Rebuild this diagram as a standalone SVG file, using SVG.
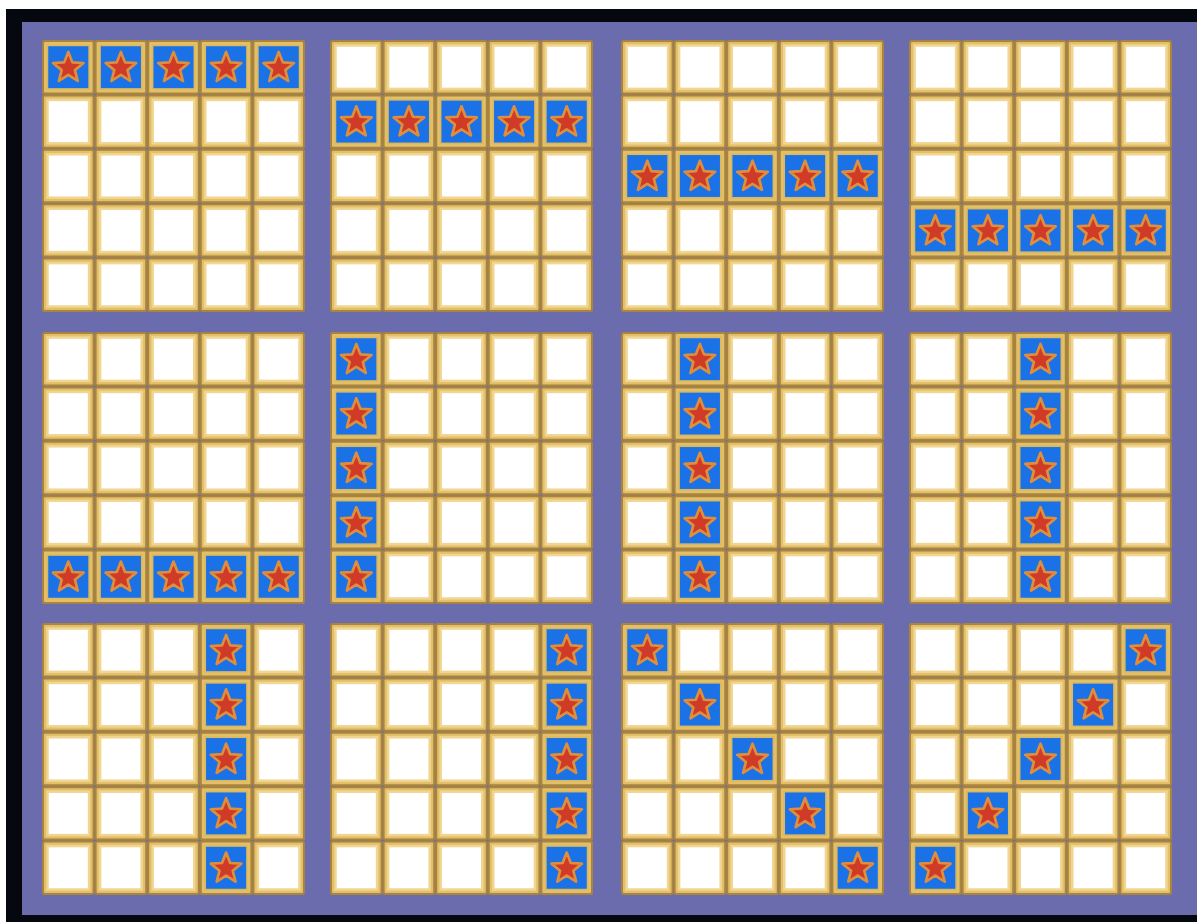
<svg xmlns="http://www.w3.org/2000/svg" width="1197" height="922" viewBox="0 0 1197 922">
<style>
.frame{fill:#a8843f}
.gold{fill:#e2bf68}
.in{fill:#ffffff;stroke:#f0d690;stroke-width:2.5}
.bin{fill:#1a72e6;stroke:#d9b860;stroke-width:1.5}
.star{fill:#cf3b26;stroke:#de8e3c;stroke-width:2.5;stroke-linejoin:round}
</style>
<defs>
<g id="c">
<rect class="frame" width="52.6" height="54.4" rx="2.5"/>
<rect class="gold" x="2" y="2" width="48.6" height="50.4" rx="1"/>
<rect class="in" x="5.5" y="5.5" width="41.6" height="43.4"/>
</g>
<g id="s">
<rect class="frame" width="52.6" height="54.4" rx="2.5"/>
<rect class="gold" x="2" y="2" width="48.6" height="50.4" rx="1"/>
<rect class="bin" x="5.5" y="5.5" width="41.6" height="43.4"/>
<path class="star" transform="translate(26.3,28) scale(1.07)" d="M0,-15 L3.82,-5.26 L14.27,-4.64 L6.18,2.01 L8.82,12.14 L0,6.5 L-8.82,12.14 L-6.18,2.01 L-14.27,-4.64 L-3.82,-5.26 Z"/>
</g>
<g id="row">
<use href="#c" x="0"/><use href="#c" x="52.6"/><use href="#c" x="105.2"/><use href="#c" x="157.8"/><use href="#c" x="210.4"/>
</g>
<g id="grid">
<use href="#row" y="0"/><use href="#row" y="54.4"/><use href="#row" y="108.8"/><use href="#row" y="163.2"/><use href="#row" y="217.6"/>
</g>
<g id="srow">
<use href="#s" x="0"/><use href="#s" x="52.6"/><use href="#s" x="105.2"/><use href="#s" x="157.8"/><use href="#s" x="210.4"/>
</g>
<g id="scol">
<use href="#s" y="0"/><use href="#s" y="54.4"/><use href="#s" y="108.8"/><use href="#s" y="163.2"/><use href="#s" y="217.6"/>
</g>
</defs>
<rect width="1197" height="922" fill="#ffffff"/>
<rect x="6" y="9" width="1191" height="913" fill="#05080e"/>
<rect x="22" y="22" width="1175" height="893" fill="#6a6cae"/>

<g id="grid-1" transform="translate(42,40)"><use href="#grid"/><use href="#srow" y="0"/></g>
<g id="grid-2" transform="translate(330,40)"><use href="#grid"/><use href="#srow" y="54.4"/></g>
<g id="grid-3" transform="translate(621,40)"><use href="#grid"/><use href="#srow" y="108.8"/></g>
<g id="grid-4" transform="translate(909,40)"><use href="#grid"/><use href="#srow" y="163.2"/></g>

<g id="grid-5" transform="translate(42,332)"><use href="#grid"/><use href="#srow" y="217.6"/></g>
<g id="grid-6" transform="translate(330,332)"><use href="#grid"/><use href="#scol" x="0"/></g>
<g id="grid-7" transform="translate(621,332)"><use href="#grid"/><use href="#scol" x="52.6"/></g>
<g id="grid-8" transform="translate(909,332)"><use href="#grid"/><use href="#scol" x="105.2"/></g>

<g id="grid-9" transform="translate(42,623)"><use href="#grid"/><use href="#scol" x="157.8"/></g>
<g id="grid-10" transform="translate(330,623)"><use href="#grid"/><use href="#scol" x="210.4"/></g>
<g id="grid-11" transform="translate(621,623)"><use href="#grid"/>
<use href="#s" x="0" y="0"/><use href="#s" x="52.6" y="54.4"/><use href="#s" x="105.2" y="108.8"/><use href="#s" x="157.8" y="163.2"/><use href="#s" x="210.4" y="217.6"/></g>
<g id="grid-12" transform="translate(909,623)"><use href="#grid"/>
<use href="#s" x="210.4" y="0"/><use href="#s" x="157.8" y="54.4"/><use href="#s" x="105.2" y="108.8"/><use href="#s" x="52.6" y="163.2"/><use href="#s" x="0" y="217.6"/></g>
</svg>
